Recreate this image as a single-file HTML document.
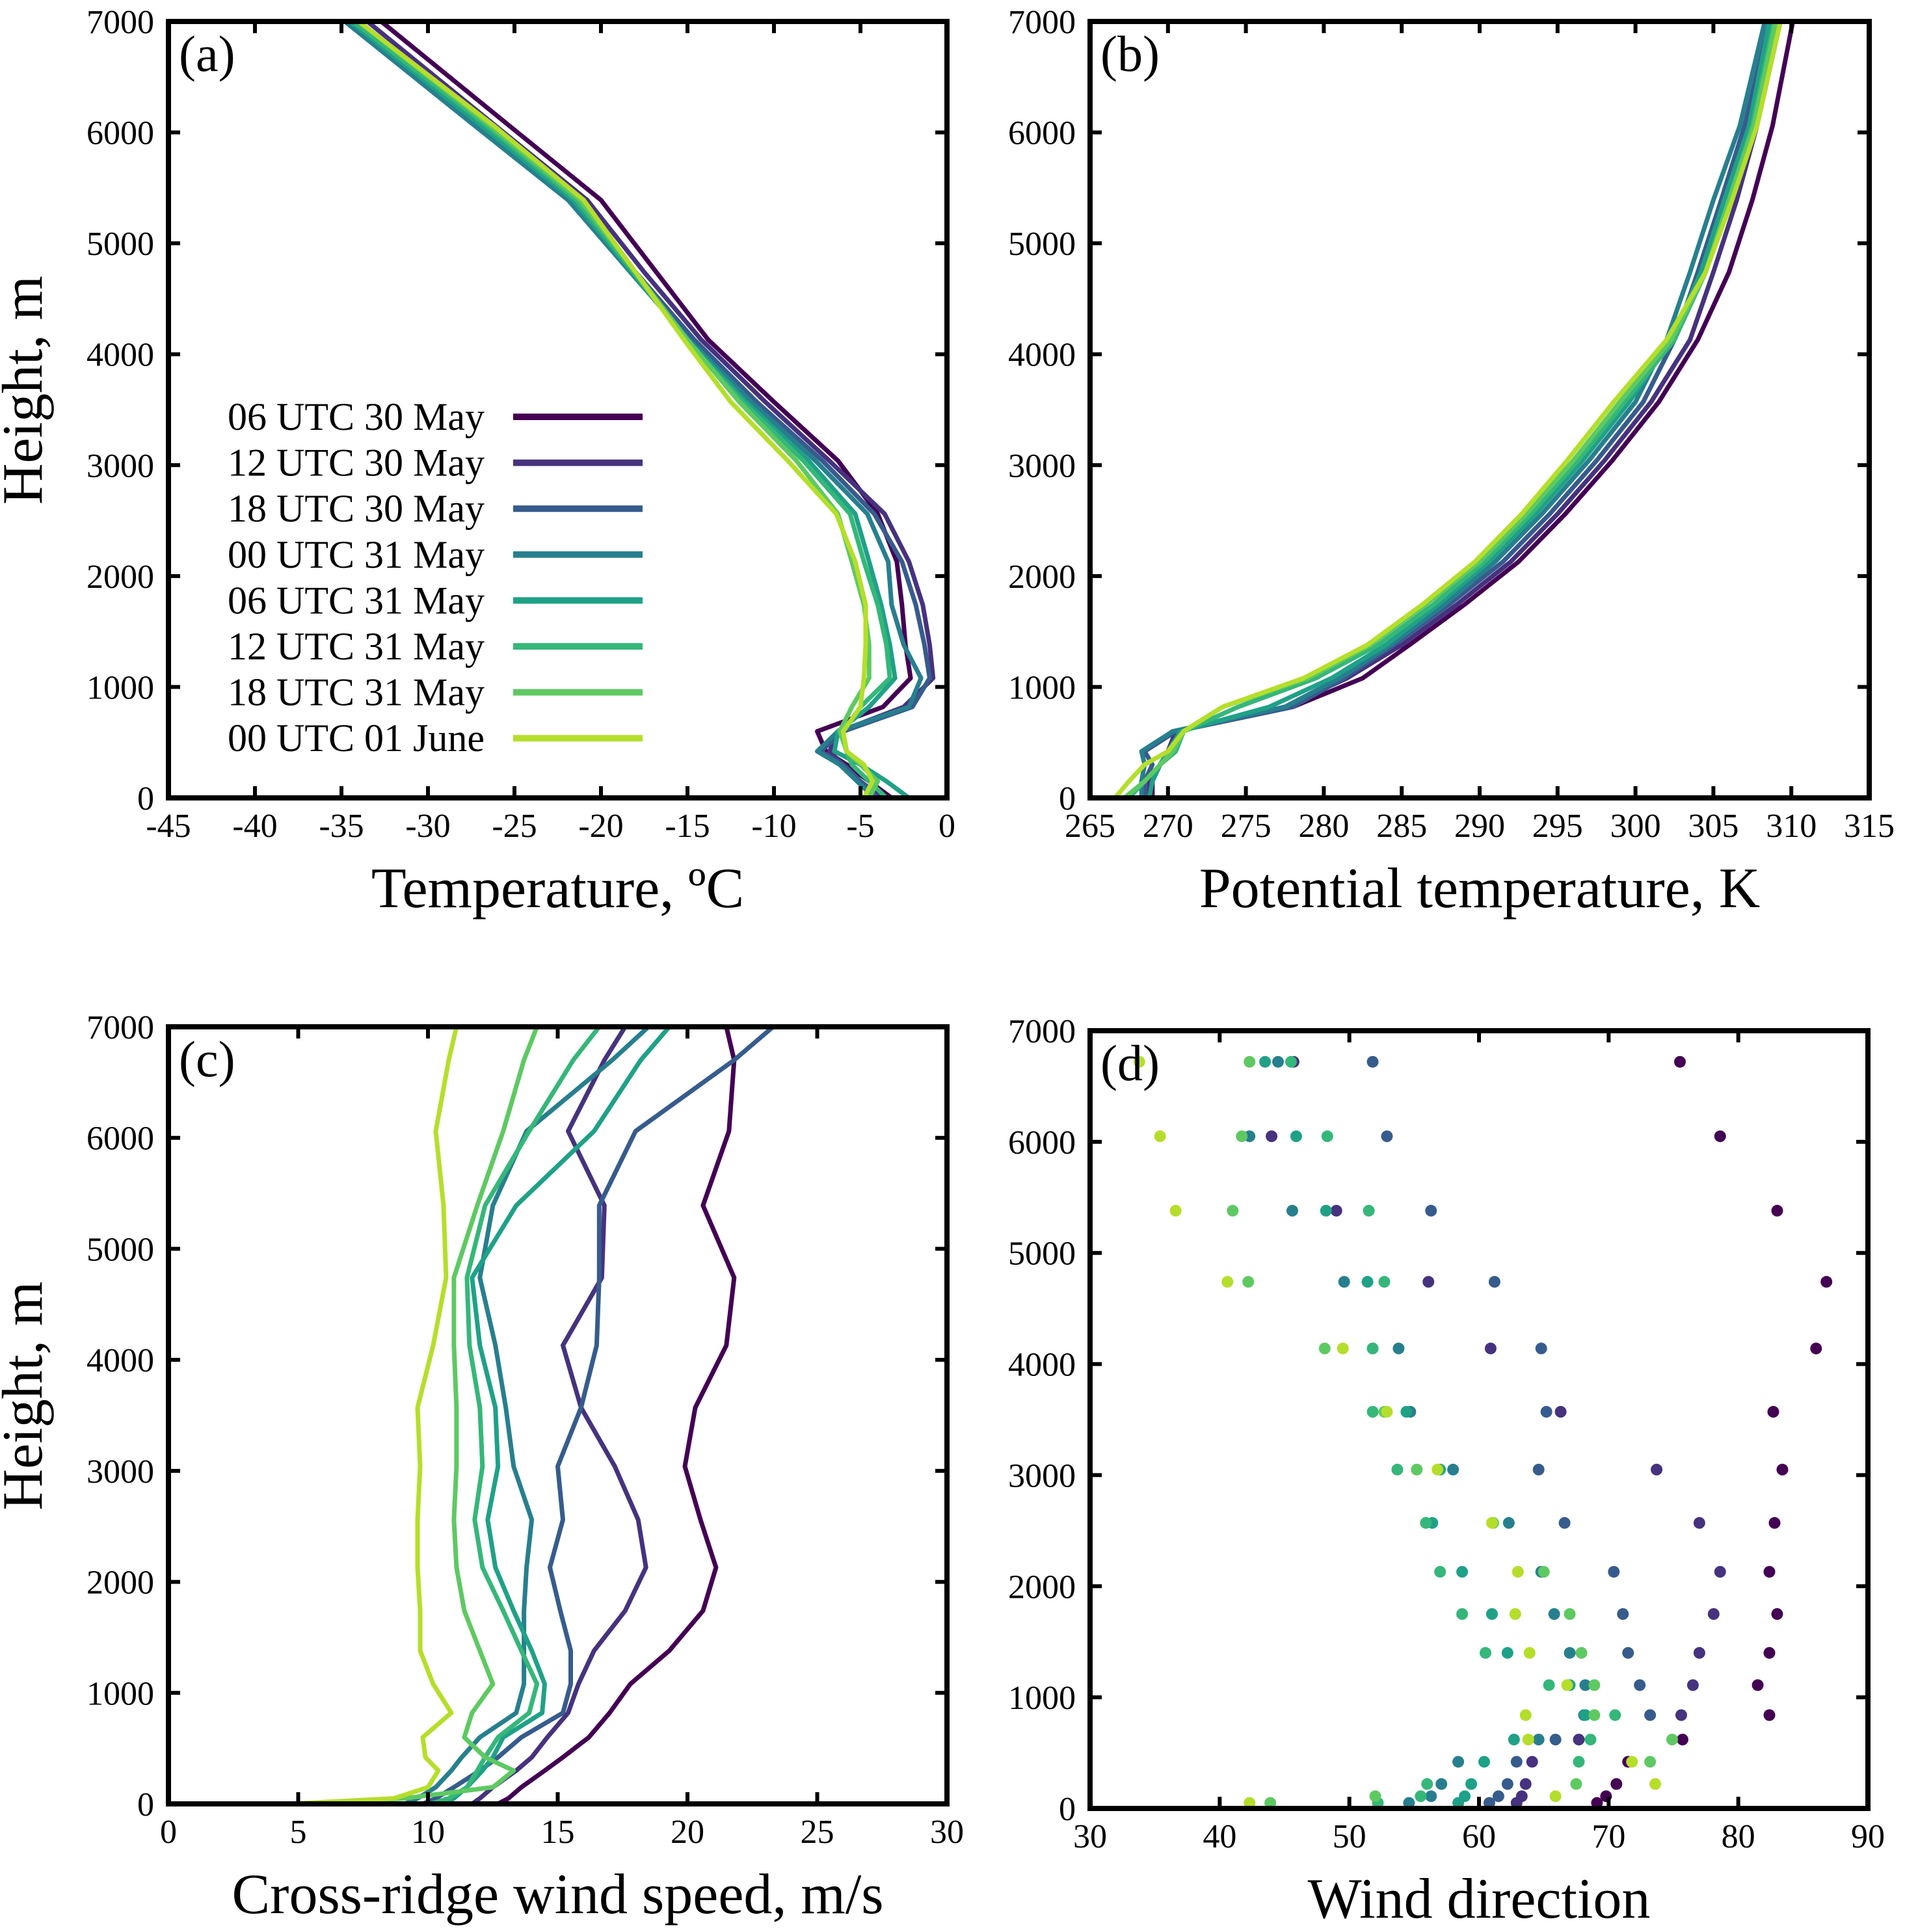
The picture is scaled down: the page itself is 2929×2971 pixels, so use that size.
<!DOCTYPE html>
<html><head><meta charset="utf-8"><style>
html,body{margin:0;padding:0;background:#fff;}
svg{display:block;font-family:"Liberation Serif","DejaVu Serif",serif;}
</style></head><body>
<svg id="fig" width="2929" height="2971" viewBox="0 0 2929 2971" xmlns="http://www.w3.org/2000/svg"></svg>
<script>
const seriesNames = ["06 UTC 30 May","12 UTC 30 May","18 UTC 30 May","00 UTC 31 May","06 UTC 31 May","12 UTC 31 May","18 UTC 31 May","00 UTC 01 June"];
const seriesColors = ["#440154","#46327e","#365c8d","#277f8e","#1fa187","#35b779","#5ec962","#b5de2b"];

const profileHeights = [0,150,300,420,600,820,1080,1380,1740,2130,2560,3040,3570,4130,4740,5390,6060,7000];
const tempS1 = [-3.2,-4.5,-5.8,-7.0,-7.5,-3.7,-2.1,-2.4,-2.6,-2.9,-4.0,-6.3,-10.0,-13.8,-16.8,-20.0,-25.3,-32.7];
const tempS2 = [-3.8,-5,-6,-6.8,-6.2,-2.5,-0.8,-1.0,-1.4,-2.2,-3.6,-6.8,-10.5,-14.2,-17.5,-20.8,-26.1,-33.5];
const tempS3 = [-4.0,-5,-6,-7.3,-6.0,-2.0,-1.0,-1.3,-1.8,-2.6,-4.2,-7.2,-11,-14.6,-18.0,-21.5,-26.8,-34.5];
const tempS4 = [-4.2,-5.2,-6.2,-7.5,-6.3,-2.2,-1.5,-2.5,-3.2,-3.4,-4.6,-7.6,-11.3,-14.9,-18.3,-21.9,-27.3,-34.8];
const tempS5 = [-2.2,-3.5,-5,-6.5,-6.3,-4.5,-3.0,-3.3,-3.8,-4.5,-5.3,-8.0,-11.6,-15.0,-18.2,-21.6,-26.9,-34.5];
const tempS6 = [-3.5,-4.5,-5.5,-5.8,-6.0,-5.0,-3.3,-3.5,-4.0,-4.8,-5.6,-8.3,-11.8,-15.1,-18.1,-21.4,-26.6,-34.3];
const tempS7 = [-4.5,-4.0,-5.0,-5.8,-6.2,-5.5,-4.5,-4.5,-4.8,-5.5,-6.3,-8.7,-12.0,-15.0,-18,-21.2,-26.4,-34];
const tempS8 = [-4.8,-4.3,-4.8,-5.8,-6.0,-5.0,-4.8,-4.7,-4.7,-5.3,-6.4,-9.2,-12.5,-15.2,-18,-21.0,-26.2,-34];

const thetaS1 = [269.0,269.0,269.5,270,270.5,278,282.5,285.5,289,292.5,295.5,298.5,301.5,304,306,307.5,308.8,310.1];
const thetaS2 = [268.8,268.8,269.5,270,270.5,277.5,281.5,285,288.5,292,295,298,301,303.5,305,306.5,307.8,309.3];
const thetaS3 = [268.5,268.5,269,268.5,270.5,278,281.3,284.5,288,291.5,294.5,297.5,300.5,302.5,304,305.5,307,308.6];
const thetaS4 = [268.3,268.3,268.5,268.3,270.3,277.5,281,284.3,287.7,291,294,297,300,302,303.5,305,306.7,308.3];
const thetaS5 = [268.8,269,269.5,270,270.8,276.5,280.5,284,287.3,290.6,293.6,296.6,299.6,302.3,304.2,305.7,307.3,308.6];
const thetaS6 = [267.5,268.5,269.5,270.5,271,274.5,279.5,283.5,287,290.3,293.3,296.3,299.3,302.5,304.5,306,307.5,308.9];
const thetaS7 = [267.2,268.5,269.5,270.3,271,273.5,279,283,286.5,290,293,296,299,302.3,304.5,306,307.6,309];
const thetaS8 = [266.6,267.5,268.5,270,271,273.5,278.7,282.8,286.3,289.7,292.7,295.6,298.6,302,304.5,306.2,307.8,309.3];

const windHeights = [0,50,150,300,420,600,820,1080,1380,1740,2130,2560,3040,3570,4130,4740,5390,6060,6700,7000];
const windS1 = [12.7,13.1,13.6,14.5,15.2,16.2,17.0,17.8,19.3,20.6,21.1,20.5,19.9,20.3,21.5,21.8,20.6,21.6,21.8,21.5];
const windS2 = [11.7,12.0,12.5,13.4,14.0,14.6,15.4,15.8,16.4,17.6,18.4,18.1,17.2,15.9,15.2,16.7,16.8,15.4,16.8,17.6];
const windS3 = [9.8,10.3,11.0,12.0,12.7,13.6,15.2,15.5,15.5,15.1,14.7,15.2,15.0,15.9,16.5,16.6,16.6,18.0,21.8,23.3];
const windS4 = [9.1,9.6,10.3,10.9,11.3,12.0,13.4,13.7,13.7,13.7,13.8,14.0,13.3,13.0,12.6,12.0,12.5,13.8,17.1,18.5];
const windS5 = [10.6,11.0,11.5,12.1,12.5,12.9,14.4,14.5,14.0,13.3,12.6,12.3,12.7,12.6,12.0,11.7,13.4,16.4,18.2,19.3];
const windS6 = [10.1,10.8,11.5,11.9,12.2,12.7,13.9,14.2,13.6,12.9,12.1,11.8,12.1,12.0,11.6,11.5,12.2,13.9,15.6,16.6];
const windS7 = [5.2,9.1,12.5,13.3,12.2,11.4,11.7,12.5,12.0,11.4,11.1,11.0,11.1,11.1,11.0,11.0,11.9,12.9,13.7,14.2];
const windS8 = [4.7,8.7,10.0,10.4,9.9,9.8,10.9,10.2,9.7,9.7,9.6,9.6,9.7,9.6,10.2,10.7,10.6,10.3,10.8,11.1];

const dirHeights = [50,110,220,420,620,840,1110,1400,1750,2130,2570,3050,3570,4140,4740,5380,6050,6720];
const dirS1 = [69.1,69.8,70.6,71.5,75.7,82.4,81.5,82.4,83,82.4,82.8,83.4,82.7,86,86.8,83,78.6,75.5];
const dirS2 = [62.9,63.3,63.6,64.1,67.7,75.6,76.5,77,78.1,78.6,77,73.7,66.3,60.9,56.1,49,44,45.7];
const dirS3 = [60.8,61.5,62.2,62.9,65.9,73.2,72.4,71.5,71.1,70.4,66.6,64.6,65.2,64.8,61.2,56.3,52.9,51.8];
const dirS4 = [54.6,56.3,57.1,58.4,64.6,68.1,68.2,67,65.8,64.8,62.3,58,54.7,53.8,49.6,45.6,42.3,44.5];
const dirS5 = [58.4,58.9,59.4,60.4,62.7,68.2,67,62.2,61,58.7,56.4,57,54.4,51.8,51.4,48.2,45.9,43.5];
const dirS6 = [52.2,55.5,56,67.7,68.6,70.5,65.4,60.5,58.7,57,55.9,53.7,51.8,51.8,52.7,51.5,48.3,45.5];
const dirS7 = [43.9,52,67.5,73.2,74.9,68.9,68.9,67.9,67,65,61.1,55.2,52.7,48.1,42.2,41,41.7,42.3];
const dirS8 = [42.3,65.9,73.6,71.8,63.8,63.6,66.8,63.9,62.8,63,61,56.8,52.9,49.5,40.6,36.6,35.4,33.8];

const tempTicks = [-45,-40,-35,-30,-25,-20,-15,-10,-5,0];
const thetaTicks = [265,270,275,280,285,290,295,300,305,310,315];
const windTicks = [0,5,10,15,20,25,30];
const dirTicks = [30,40,50,60,70,80,90];
const heightTicks = [0,1000,2000,3000,4000,5000,6000,7000];

const NS = "http://www.w3.org/2000/svg";
const svg = document.getElementById("fig");
function mk(tag, attrs, parent){
  const e = document.createElementNS(NS, tag);
  for (const k in attrs) e.setAttribute(k, attrs[k]);
  (parent||svg).appendChild(e);
  return e;
}
function linScale(d0,d1,r0,r1){ return v => r0 + (v-d0)*(r1-r0)/(d1-d0); }

function panel(p){
  const g = mk("g",{});
  
  
  const sx = linScale(p.xmin,p.xmax,p.x0,p.x1);
  const sy = linScale(0,7000,p.y1,p.y0);
  p.series.forEach((vals,i)=>{
    if (p.dots){
      vals.forEach((v,j)=>{
        const c = mk("circle",{cx:sx(v),cy:sy(p.heights[j]),r:9,fill:seriesColors[i]},g);
        
        
      });
    } else {
      const pts = vals.map((v,j)=>sx(v).toFixed(1)+","+sy(p.heights[j]).toFixed(1)).join(" ");
      const l = mk("polyline",{points:pts,fill:"none",stroke:seriesColors[i],"stroke-width":7,"stroke-linejoin":"round"},g);
      
      
    }
  });
  p.xticks.forEach(t=>{
    const x = sx(t);
    mk("line",{x1:x,x2:x,y1:p.y1,y2:p.y1-18,stroke:"#000","stroke-width":6},g);
    mk("line",{x1:x,x2:x,y1:p.y0,y2:p.y0+18,stroke:"#000","stroke-width":6},g);
    const tx = mk("text",{x:x,y:p.y1+60,"font-size":52,"text-anchor":"middle"},g);
    tx.textContent = t;
    
    
  });
  heightTicks.forEach(t=>{
    const y = sy(t);
    mk("line",{x1:p.x0,x2:p.x0+18,y1:y,y2:y,stroke:"#000","stroke-width":6},g);
    mk("line",{x1:p.x1,x2:p.x1-18,y1:y,y2:y,stroke:"#000","stroke-width":6},g);
    const ty = mk("text",{x:p.x0-22,y:y+18,"font-size":52,"text-anchor":"end"},g);
    ty.textContent = t;
    
    
  });
  const fr = mk("rect",{x:p.x0,y:p.y0,width:p.x1-p.x0,height:p.y1-p.y0,fill:"none",stroke:"#000","stroke-width":8},g);
  
  
  const pl = mk("text",{x:p.x0+16,y:p.y0+76,"font-size":78},g);
  pl.textContent = p.label;
  
  
  const xt = mk("text",{x:(p.x0+p.x1)/2,y:p.y1+168,"font-size":88,"text-anchor":"middle"},g);
  xt.textContent = p.xtitle;
  
  
  if (p.ytitle){
    const cy = (p.y0+p.y1)/2 - 30;
    const yt = mk("text",{x:64,y:cy,"font-size":88,"text-anchor":"middle",transform:"rotate(-90 64 "+cy+")"},g);
    yt.textContent = p.ytitle;
    
    
  }
  return {g,sx,sy};
}

panel({name:"temperature-panel",x0:259,x1:1456,y0:33,y1:1227,xmin:-45,xmax:0,heights:profileHeights,
  series:[tempS1,tempS2,tempS3,tempS4,tempS5,tempS6,tempS7,tempS8],xticks:tempTicks,label:"(a)",
  xtitle:"Temperature, \u00baC",ytitle:"Height, m"});
panel({name:"potential-temperature-panel",x0:1676,x1:2874,y0:33,y1:1227,xmin:265,xmax:315,heights:profileHeights,
  series:[thetaS1,thetaS2,thetaS3,thetaS4,thetaS5,thetaS6,thetaS7,thetaS8],xticks:thetaTicks,label:"(b)",
  xtitle:"Potential temperature, K"});
panel({name:"wind-speed-panel",x0:259,x1:1456,y0:1579,y1:2774,xmin:0,xmax:30,heights:windHeights,
  series:[windS1,windS2,windS3,windS4,windS5,windS6,windS7,windS8],xticks:windTicks,label:"(c)",
  xtitle:"Cross-ridge wind speed, m/s",ytitle:"Height, m"});
panel({name:"wind-direction-panel",x0:1676,x1:2872,y0:1585,y1:2781,xmin:30,xmax:90,heights:dirHeights,dots:true,
  series:[dirS1,dirS2,dirS3,dirS4,dirS5,dirS6,dirS7,dirS8],xticks:dirTicks,label:"(d)",
  xtitle:"Wind direction"});

const lg = mk("g",{});


seriesNames.forEach((n,i)=>{
  const y = 641 + i*70.6;
  const t = mk("text",{x:745,y:y+20,"font-size":60,"text-anchor":"end"},lg);
  t.textContent = n;
  
  
  const l = mk("line",{x1:789,x2:988,y1:y,y2:y,stroke:seriesColors[i],"stroke-width":10},lg);
  
  
});
</script>
</body></html>
